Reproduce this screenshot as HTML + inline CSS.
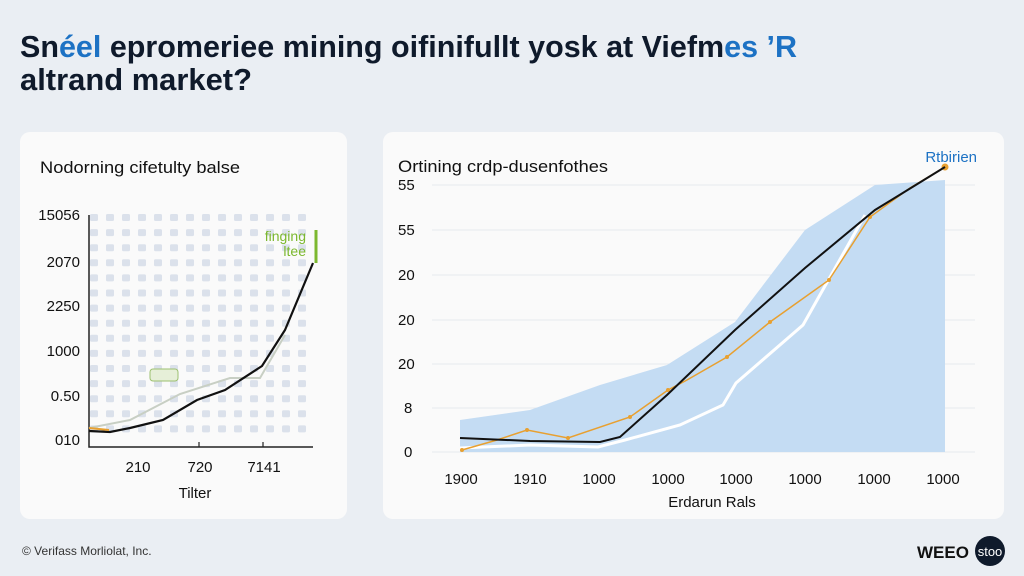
<!DOCTYPE html>
<html><head><meta charset="utf-8"><style>
html,body{margin:0;padding:0;background:#eaeef3;}
svg{display:block;font-family:"Liberation Sans",sans-serif;}
</style></head><body>
<svg width="1024" height="576" viewBox="0 0 1024 576" xmlns="http://www.w3.org/2000/svg">
<rect width="1024" height="576" fill="#eaeef3"/>
<text x="20" y="57" font-size="31" font-weight="bold" fill="#0f1a2b" textLength="777" lengthAdjust="spacingAndGlyphs">Sn<tspan fill="#1d72c4">éel</tspan> epromeriee mining oifinifullt yosk at Viefm<tspan fill="#1d72c4">es ’R</tspan></text>
<text x="20" y="90" font-size="31" font-weight="bold" fill="#0f1a2b" textLength="232" lengthAdjust="spacingAndGlyphs">altrand market?</text>

<rect x="20" y="132" width="327" height="387" rx="10" fill="#fafafa"/>
<text x="40" y="173" font-size="17" fill="#111" textLength="200" lengthAdjust="spacingAndGlyphs">Nodorning cifetulty balse</text>
<g fill="#d5dce8">
<script>/* no-op */</script>
</g>
<g id="dots"></g>
<g font-size="15" fill="#111" text-anchor="end">
<text x="80" y="220">15056</text><text x="80" y="267">2070</text><text x="80" y="311">2250</text>
<text x="80" y="356">1000</text><text x="80" y="401">0.50</text><text x="80" y="445">010</text>
</g>
<path d="M89 215V447H313" fill="none" stroke="#222" stroke-width="1.5"/>
<path d="M199 447v-5M263 447v-5" stroke="#222" stroke-width="1.2"/>
<polyline points="89,428 130,420 180,394 230,378 260,378 285,335" fill="none" stroke="#c8cfc4" stroke-width="2"/>
<polyline points="89,431 110,432 130,428 163,420 197,400 225,390 262,366 285,330 313,263" fill="none" stroke="#111" stroke-width="2.2"/>
<path d="M89 428l20 2" stroke="#e8a030" stroke-width="2"/>
<path d="M316 230v33" stroke="#7cb82f" stroke-width="3"/>
<text x="306" y="241" font-size="14" fill="#7cb82f" text-anchor="end">finging</text>
<text x="306" y="256" font-size="14" fill="#7cb82f" text-anchor="end">ltee</text>
<rect x="150" y="369" width="28" height="12" rx="3" fill="#e6efd8" stroke="#9cc070"/>
<g font-size="15" fill="#111" text-anchor="middle">
<text x="138" y="472">210</text><text x="200" y="472">720</text><text x="264" y="472">7141</text>
<text x="195" y="498">Tilter</text>
</g>

<rect x="383" y="132" width="621" height="387" rx="10" fill="#fafafa"/>
<text x="398" y="172" font-size="17" fill="#111" textLength="210" lengthAdjust="spacingAndGlyphs">Ortining crdp-dusenfothes</text>
<text x="977" y="162" font-size="15" fill="#1d72c4" text-anchor="end">Rtbirien</text>
<g stroke="#e6e9ee" stroke-width="1">
<path d="M432 185H975M432 230H975M432 275H975M432 320H975M432 364H975M432 408H975M432 452H975"/>
</g>
<g font-size="15" fill="#111">
<text x="398" y="190">55</text><text x="398" y="235">55</text><text x="398" y="280">20</text>
<text x="398" y="325">20</text><text x="398" y="369">20</text><text x="404" y="413">8</text><text x="404" y="457">0</text>
</g>
<polygon points="460,420 530,410 600,385 667,365 735,322 805,230 875,185 945,180 945,452 460,452" fill="#c4dcf3"/>
<polyline points="460,448 530,445 598,447 625,440 680,425 723,405 736,383 803,325 865,215" fill="none" stroke="#fff" stroke-width="3"/>
<polyline points="462,450 497,440 527,430 568,438 630,417 668,390 687,380 727,357 770,322 829,280 870,217 910,188 945,167" fill="none" stroke="#e8a030" stroke-width="1.5"/>
<g fill="#e8a030"><circle cx="462" cy="450" r="2"/><circle cx="527" cy="430" r="2"/><circle cx="568" cy="438" r="2"/><circle cx="630" cy="417" r="2"/><circle cx="668" cy="390" r="2"/><circle cx="727" cy="357" r="2"/><circle cx="770" cy="322" r="2"/><circle cx="829" cy="280" r="2"/><circle cx="870" cy="217" r="2"/><circle cx="945" cy="167" r="3.5"/></g>
<polyline points="460,438 530,441 600,442 620,437 667,395 735,330 805,268 875,210 945,167" fill="none" stroke="#111" stroke-width="2"/>
<g font-size="15" fill="#111" text-anchor="middle">
<text x="461" y="484">1900</text><text x="530" y="484">1910</text><text x="599" y="484">1000</text><text x="668" y="484">1000</text>
<text x="736" y="484">1000</text><text x="805" y="484">1000</text><text x="874" y="484">1000</text><text x="943" y="484">1000</text>
<text x="712" y="507">Erdarun Rals</text>
</g>

<text x="22" y="555" font-size="12" fill="#333">© Verifass Morliolat, Inc.</text>
<text x="917" y="558" font-size="17" font-weight="bold" fill="#111">WEEO</text>
<circle cx="990" cy="551" r="15" fill="#0f1a2b"/>
<text x="990" y="556" font-size="13" fill="#fff" text-anchor="middle">stoo</text>
</svg>
<script>
(function(){var g=document.getElementById('dots'),ns='http://www.w3.org/2000/svg';
for(var y=218;y<=444;y+=15.1){for(var x=94;x<=302;x+=16){var r=document.createElementNS(ns,'rect');
r.setAttribute('x',x-4);r.setAttribute('y',y-4);r.setAttribute('width',8);r.setAttribute('height',7);r.setAttribute('rx',1.5);r.setAttribute('fill','#dbe1eb');g.appendChild(r);}}})();
</script>
</body></html>
